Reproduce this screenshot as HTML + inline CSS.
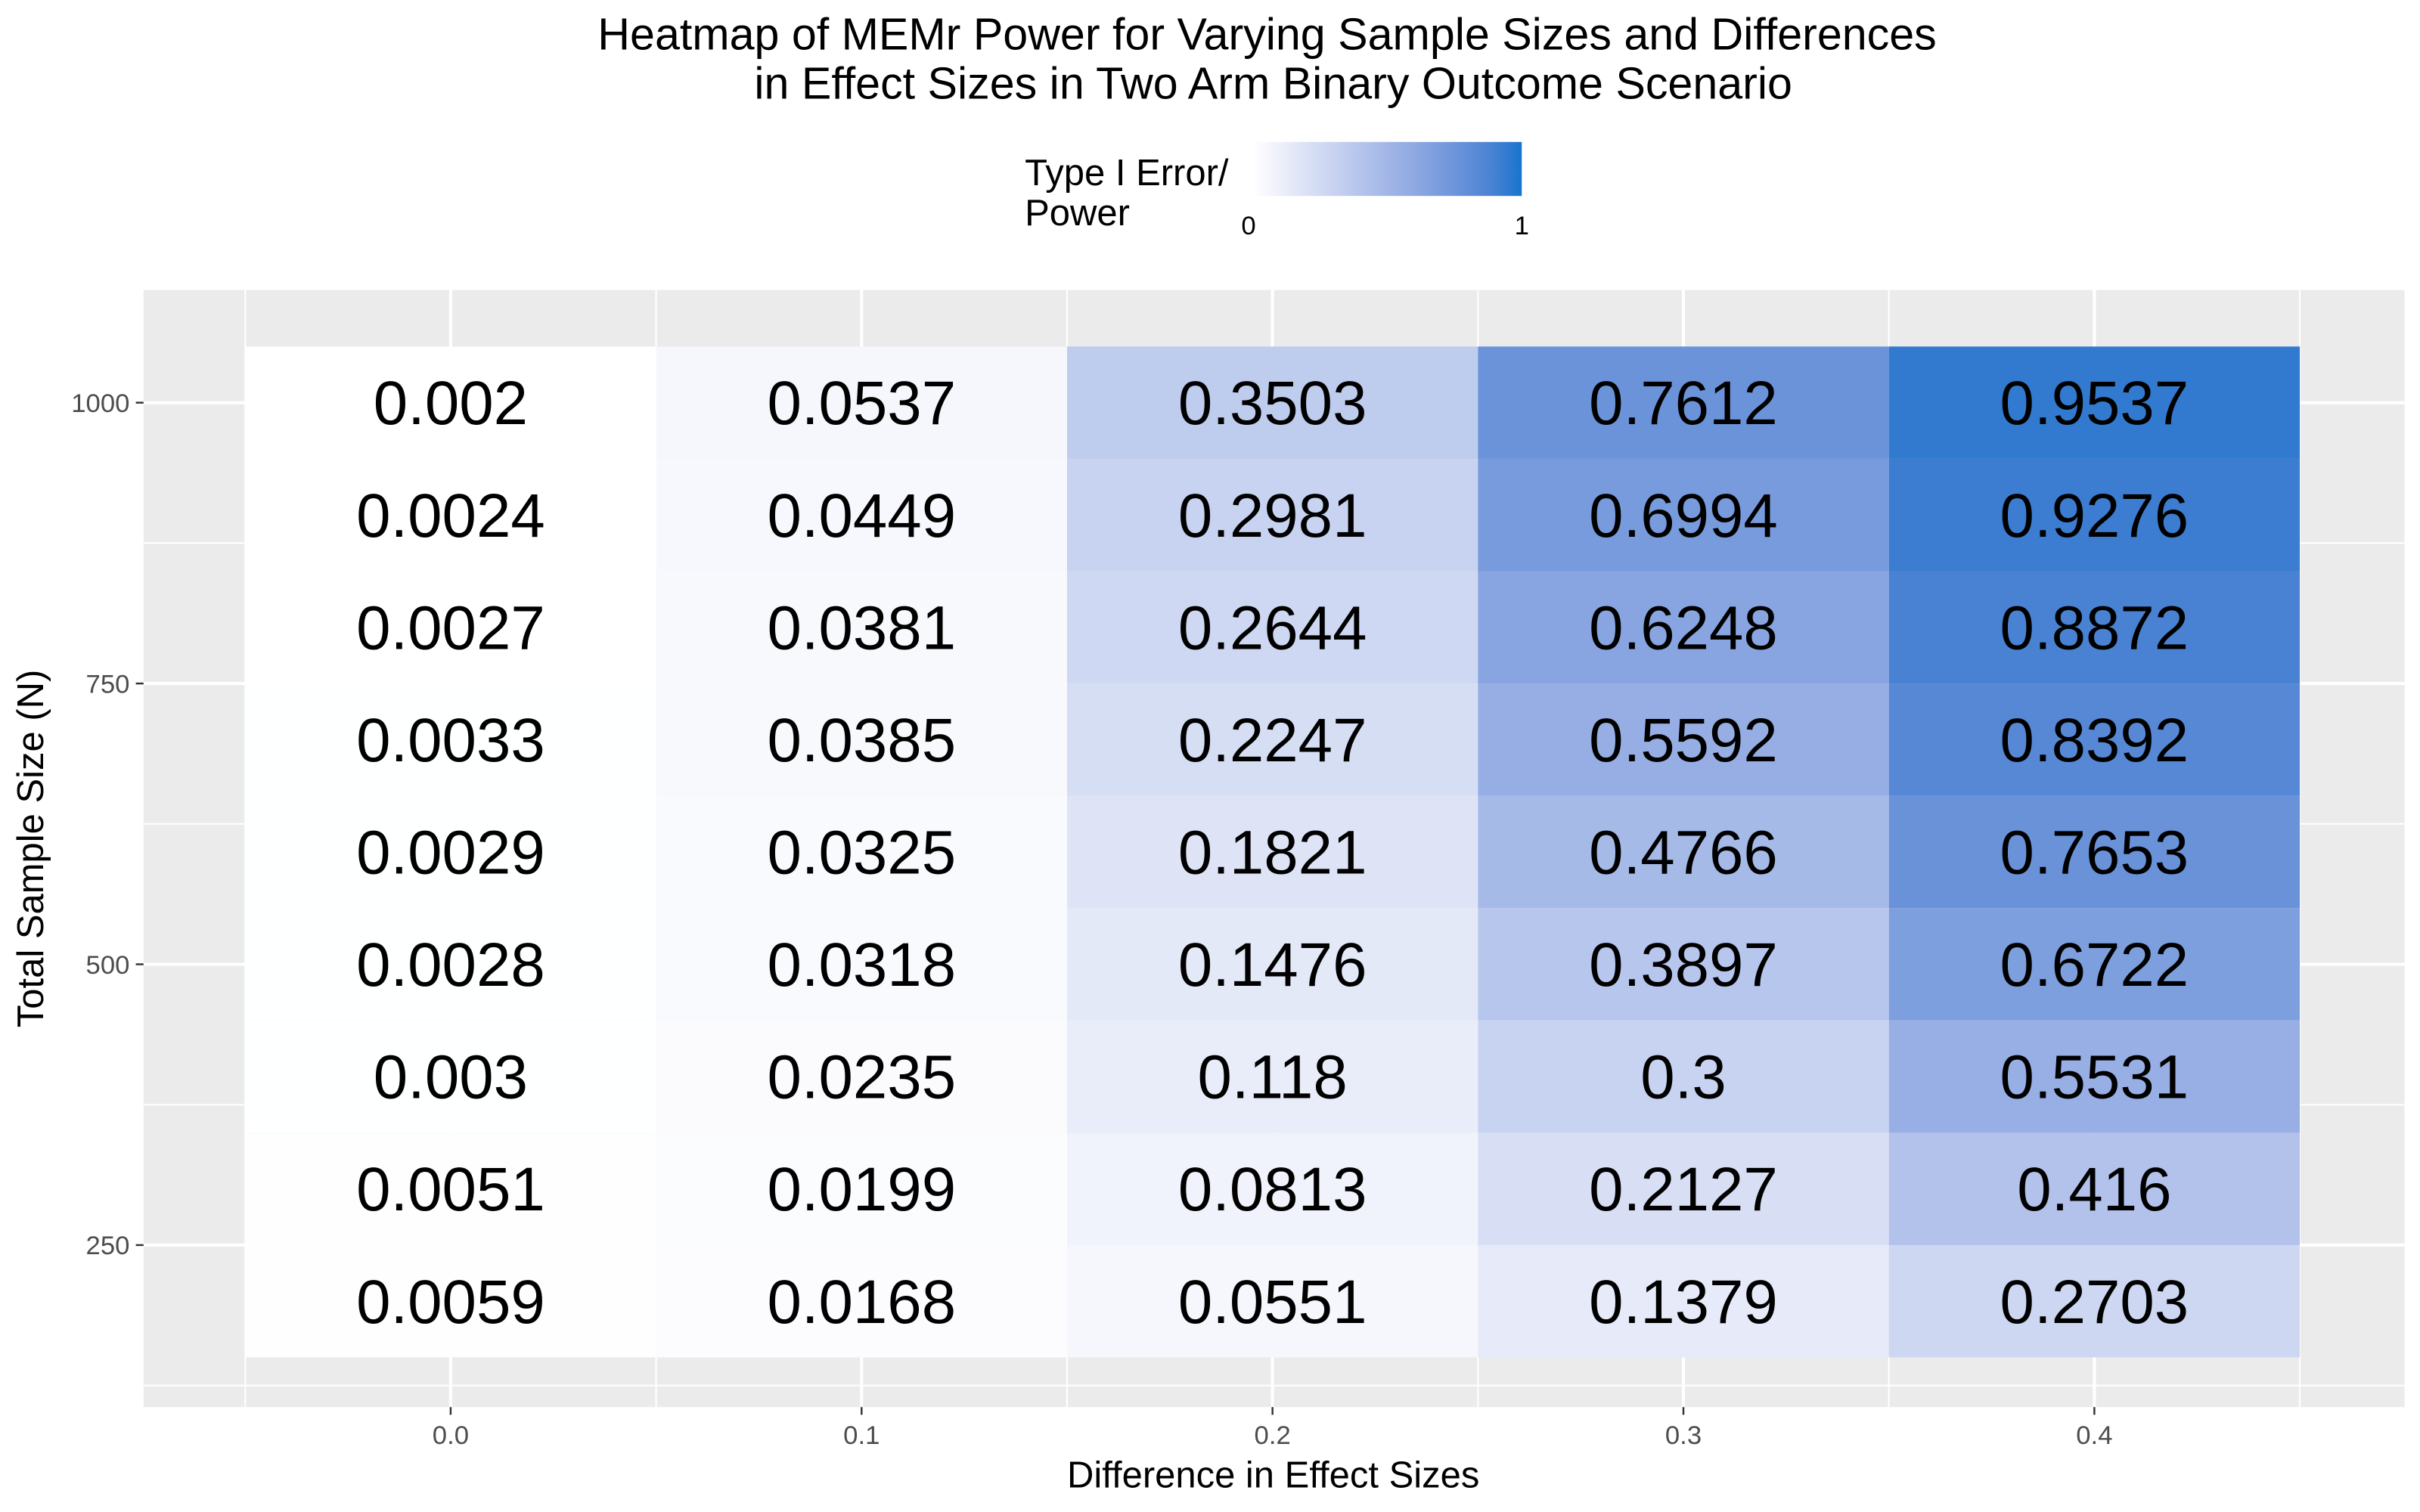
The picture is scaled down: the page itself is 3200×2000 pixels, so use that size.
<!DOCTYPE html>
<html><head><meta charset="utf-8"><style>
html,body{margin:0;padding:0;background:#fff;}
svg{display:block;font-family:"Liberation Sans",Arial,sans-serif;}
</style></head><body>
<svg id="chart" width="3200" height="2000" viewBox="0 0 1568 980" xmlns="http://www.w3.org/2000/svg">
<defs>
<linearGradient id="lg" x1="0" x2="1" y1="0" y2="0"></linearGradient>
</defs>
<text x="821" y="32" font-size="29" text-anchor="middle" fill="#000">Heatmap of MEMr Power for Varying Sample Sizes and Differences</text>
<text x="825" y="64" font-size="29" text-anchor="middle" fill="#000">in Effect Sizes in Two Arm Binary Outcome Scenario</text>
<g>
<text x="664" y="120" font-size="24" fill="#000">Type I Error/</text>
<text x="664" y="146" font-size="24" fill="#000">Power</text>
<rect x="812" y="92" width="174" height="35" fill="url(#lg)"/>
<text x="809" y="152" font-size="17" text-anchor="middle" fill="#000">0</text>
<text x="986" y="152" font-size="17" text-anchor="middle" fill="#000">1</text>
</g>
<rect x="93" y="188" width="1465" height="724" fill="#ebebeb"/>
<g id="grid"></g>
<g id="tiles"></g>
<g id="axes"></g>
<text x="825" y="964" font-size="24" text-anchor="middle" fill="#000">Difference in Effect Sizes</text>
<text transform="translate(28,550) rotate(-90)" font-size="24" text-anchor="middle" fill="#000">Total Sample Size (N)</text>
</svg>
<script>
const xCats = [0.0, 0.1, 0.2, 0.3, 0.4];
const yCats = [1000, 900, 800, 700, 600, 500, 400, 300, 200];
const power00 = [0.002, 0.0024, 0.0027, 0.0033, 0.0029, 0.0028, 0.003, 0.0051, 0.0059];
const power01 = [0.0537, 0.0449, 0.0381, 0.0385, 0.0325, 0.0318, 0.0235, 0.0199, 0.0168];
const power02 = [0.3503, 0.2981, 0.2644, 0.2247, 0.1821, 0.1476, 0.118, 0.0813, 0.0551];
const power03 = [0.7612, 0.6994, 0.6248, 0.5592, 0.4766, 0.3897, 0.3, 0.2127, 0.1379];
const power04 = [0.9537, 0.9276, 0.8872, 0.8392, 0.7653, 0.6722, 0.5531, 0.416, 0.2703];
const xTicks = ["0.0", "0.1", "0.2", "0.3", "0.4"];
const yTicks = [250, 500, 750, 1000];

const series = [power00, power01, power02, power03, power04];
const NS = "http://www.w3.org/2000/svg";
const xScale = v => 292 + (v - 0) * 2662.5;
const yScale = v => 261 + (1000 - v) * 0.728;
const xStep = 0.1 * 2662.5, yStep = 100 * 0.728;

function hex2rgb(h){return [1,3,5].map(i=>parseInt(h.substr(i,2),16));}
function toLin(c){c/=255;return c<=0.04045?c/12.92:Math.pow((c+0.055)/1.055,2.4);}
function toSrgb(c){c=c<=0.0031308?12.92*c:1.055*Math.pow(c,1/2.4)-0.055;return Math.round(Math.max(0,Math.min(1,c))*255);}
function rgb2lab(rgb){const [r,g,b]=rgb.map(toLin);
let X=(r*0.4124+g*0.3576+b*0.1805)/0.95047,Y=(r*0.2126+g*0.7152+b*0.0722),Z=(r*0.0193+g*0.1192+b*0.9505)/1.08883;
const f=t=>t>0.008856?Math.cbrt(t):7.787*t+16/116;
return [116*f(Y)-16,500*(f(X)-f(Y)),200*(f(Y)-f(Z))];}
function lab2rgb(l){const fy=(l[0]+16)/116,fx=fy+l[1]/500,fz=fy-l[2]/200;
const fi=t=>t*t*t>0.008856?t*t*t:(t-16/116)/7.787;
const X=fi(fx)*0.95047,Y=fi(fy),Z=fi(fz)*1.08883;
const r=X*3.2406-Y*1.5372-Z*0.4986,g=-X*0.9689+Y*1.8758+Z*0.0415,b=X*0.0557-Y*0.2040+Z*1.0570;
return [toSrgb(r),toSrgb(g),toSrgb(b)];}
const lowLab=rgb2lab(hex2rgb("#ffffff")), highLab=rgb2lab(hex2rgb("#1874cd"));
function color(v){const l=lowLab.map((a,i)=>a+(highLab[i]-a)*v);const c=lab2rgb(l);return `rgb(${c[0]},${c[1]},${c[2]})`;}

const lg=document.getElementById('lg');
for(let i=0;i<=10;i++){const s=document.createElementNS(NS,'stop');s.setAttribute('offset',i/10);s.setAttribute('stop-color',color(i/10));lg.appendChild(s);}

const grid=document.getElementById('grid');
function line(x1,y1,x2,y2,w,name){const l=document.createElementNS(NS,'line');
l.setAttribute('x1',x1);l.setAttribute('y1',y1);l.setAttribute('x2',x2);l.setAttribute('y2',y2);
l.setAttribute('stroke','#fff');l.setAttribute('stroke-width',w);


grid.appendChild(l);}
for(let v=-0.05;v<=0.46;v+=0.1) line(xScale(v),188,xScale(v),912,1,'x-minor-gridline');
xCats.forEach(v=>line(xScale(v),188,xScale(v),912,2,'x-major-gridline'));
[125,375,625,875].forEach(v=>line(93,yScale(v),1558,yScale(v),1,'y-minor-gridline'));
yTicks.forEach(v=>line(93,yScale(v),1558,yScale(v),2,'y-major-gridline'));

const tiles=document.getElementById('tiles');
xCats.forEach((xv,ci)=>{yCats.forEach((yv,ri)=>{
const val=series[ci][ri];
const r=document.createElementNS(NS,'rect');
r.setAttribute('x',xScale(xv)-xStep/2);r.setAttribute('y',yScale(yv)-yStep/2);
r.setAttribute('width',xStep);r.setAttribute('height',yStep);r.setAttribute('fill',color(val));


tiles.appendChild(r);
const t=document.createElementNS(NS,'text');
t.setAttribute('x',xScale(xv));t.setAttribute('y',yScale(yv)+14);
t.setAttribute('font-size','40');t.setAttribute('text-anchor','middle');t.setAttribute('fill','#000');
t.textContent=String(val);


tiles.appendChild(t);
});});

const axes=document.getElementById('axes');
xCats.forEach((v,i)=>{
const tk=document.createElementNS(NS,'line');
tk.setAttribute('x1',xScale(v));tk.setAttribute('x2',xScale(v));tk.setAttribute('y1',912);tk.setAttribute('y2',917);
tk.setAttribute('stroke','#333');tk.setAttribute('stroke-width',1.2);


axes.appendChild(tk);
const t=document.createElementNS(NS,'text');
t.setAttribute('x',xScale(v));t.setAttribute('y',936);t.setAttribute('font-size','17');
t.setAttribute('text-anchor','middle');t.setAttribute('fill','#4d4d4d');t.textContent=xTicks[i];


axes.appendChild(t);
});
yTicks.forEach(v=>{
const tk=document.createElementNS(NS,'line');
tk.setAttribute('x1',88);tk.setAttribute('x2',93);tk.setAttribute('y1',yScale(v));tk.setAttribute('y2',yScale(v));
tk.setAttribute('stroke','#333');tk.setAttribute('stroke-width',1.2);


axes.appendChild(tk);
const t=document.createElementNS(NS,'text');
t.setAttribute('x',84);t.setAttribute('y',yScale(v)+6);t.setAttribute('font-size','17');
t.setAttribute('text-anchor','end');t.setAttribute('fill','#4d4d4d');t.textContent=String(v);


axes.appendChild(t);
});
</script>
</body></html>
